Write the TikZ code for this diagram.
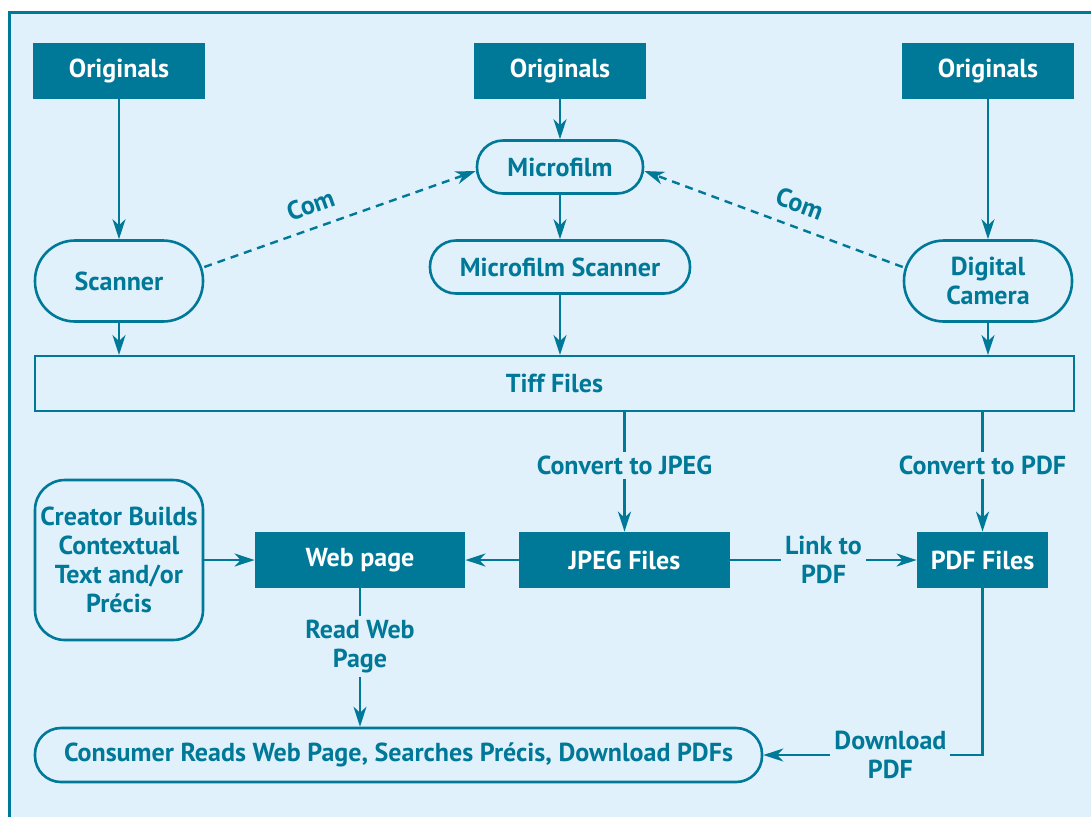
\documentclass[tikz,border=0pt]{standalone}
\usepackage{fontspec}
\setmainfont{PT Sans}
\usetikzlibrary{arrows.meta}
\definecolor{tealdark}{RGB}{0,120,152}
\definecolor{palebg}{RGB}{224,241,251}

\begin{document}
\begin{tikzpicture}[x=0.5pt,y=-0.5pt,
        font=\fontsize{13}{14.5}\selectfont\bfseries,
        dark/.style={fill=tealdark,text=white,minimum height=28pt,inner sep=0pt},
        soft/.style={draw=tealdark,line width=1.3pt,text=tealdark,rounded corners=#1,align=center,inner sep=0pt},
        soft/.default=13pt,
        arr/.style={draw=tealdark,line width=1.2pt,-{Stealth[length=10pt,width=6.5pt,inset=3pt]}},
        tag/.style={fill=palebg,text=tealdark,align=center,inner sep=2pt}]
                \useasboundingbox (0,0) rectangle (1091,816);
                \clip (0,0) rectangle (1091,816);
                \draw[fill=palebg,draw=tealdark,line width=1.5pt] (9,12) rectangle (1120,840);
                % top row
                \node[dark,minimum width=86pt] (orig1) at (119,71) {Originals};
                \node[dark,minimum width=86pt] (orig2) at (560,71) {Originals};
                \node[dark,minimum width=86pt] (orig3) at (988,71) {Originals};
                \node[soft,minimum width=83pt,minimum height=26.5pt] (mfilm) at (560,167) {Microfilm};
                \node[soft=20pt,minimum width=84pt,minimum height=40.5pt] (scan) at (119,281) {Scanner};
                \node[soft,minimum width=130pt,minimum height=26.5pt] (mscan) at (560,267) {Microfilm Scanner};
                \node[soft=20pt,minimum width=84pt,minimum height=40.5pt] (cam) at (988,281) {Digital\\Camera};
                \node[draw=tealdark,line width=1pt,text=tealdark,minimum width=519.5pt,minimum height=27.5pt,inner sep=0pt] (tiff) at (554.5,383.5) {Tiff Files};
                % lower part
                \node[soft=15pt,minimum width=84pt,minimum height=80pt] (creator) at (119,560) {Creator Builds\\Contextual\\Text and/or\\Précis};
                \node[dark,minimum width=105pt] (web) at (360,560) {Web page};
                \node[dark,minimum width=105.5pt] (jpeg) at (624.5,560) {JPEG Files};
                \node[dark,minimum width=65.5pt] (pdf) at (982.5,560) {PDF Files};
                \node[soft,minimum width=363.5pt,minimum height=27pt] (cons) at (398.5,755) {Consumer Reads Web Page, Searches Précis, Download PDFs};
                % connectors
                \draw[arr] (orig1) -- (scan);
                \draw[arr] (orig2) -- (mfilm);
                \draw[arr] (mfilm) -- (mscan);
                \draw[arr] (orig3) -- (cam);
                \draw[arr] (scan) -- (scan |- tiff.north);
                \draw[arr] (mscan) -- (mscan |- tiff.north);
                \draw[arr] (cam) -- (cam |- tiff.north);
                \draw[arr,dash pattern=on 4pt off 3pt] ([yshift=7pt]scan.east) -- node[sloped,above=3pt,pos=0.42,text=tealdark] {Com} ([yshift=-2pt]mfilm.west);
                \draw[arr,dash pattern=on 4pt off 3pt] ([yshift=7pt]cam.west) -- node[sloped,above=3pt,pos=0.43,text=tealdark] {Com} ([yshift=-2pt]mfilm.east);
                \draw[arr] (jpeg.north |- tiff.south) -- node[tag,pos=0.45] {Convert to JPEG} (jpeg);
                \draw[arr] (pdf.north |- tiff.south) -- node[tag,pos=0.45] {Convert to PDF} (pdf);
                \draw[arr] (jpeg) -- (web);
                \draw[arr] (creator) -- (web);
                \draw[arr] (jpeg) -- node[tag] {Link to\\PDF} (pdf);
                \draw[arr] (web) -- node[tag,pos=0.42] {Read Web\\Page} (web |- cons.north);
                \draw[arr] (pdf) |- node[tag,pos=0.71] {Download\\PDF} (cons);
            \end{tikzpicture}
\end{document}
